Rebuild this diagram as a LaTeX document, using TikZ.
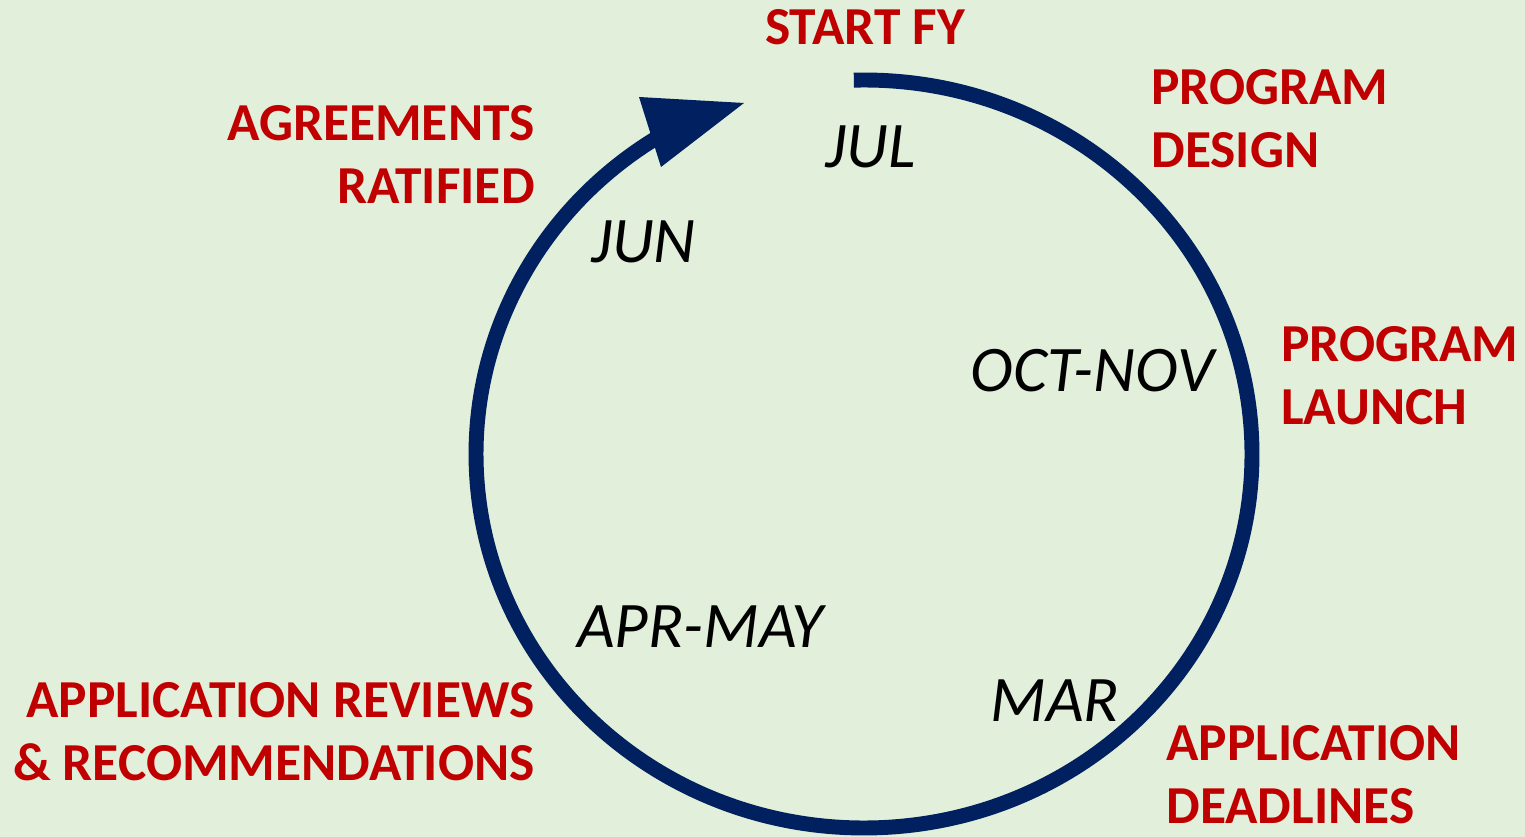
\documentclass[tikz,border=0pt]{standalone}
\usepackage{fontspec}
\setmainfont{Carlito}
\usepackage{tikz}
\definecolor{nv}{HTML}{002060}
\definecolor{rd}{HTML}{C00000}
\definecolor{bg}{HTML}{E2EFDA}
\tikzset{
stage/.style={text=rd,inner sep=0,font=\fontsize{30.4}{36.4}\selectfont\bfseries},
month/.style={text=black,inner sep=0,font=\fontsize{37}{44}\selectfont\itshape},
}
\begin{document}
\begin{tikzpicture}
\fill[bg] (0,0) rectangle (30.5,16.74);
\useasboundingbox (0,0) rectangle (30.5,16.74);
% the year
\draw[nv,line width=8.5pt] (17.077,15.137) arc [x radius=7.76,y radius=7.48,start angle=91.5,end angle=-238];
\filldraw[nv,draw=none] (12.78,14.80) -- (14.88,14.68) -- (13.22,13.40) -- cycle;
% stages (base = last line)
\node[stage,anchor=base] (startfy) at (17.30,15.84) {START FY};
\node[stage,anchor=base west,align=left] (design) at (23.02,13.38) {PROGRAM\\DESIGN};
\node[stage,anchor=base east,align=right] (ratified) at (10.70,12.66) {AGREEMENTS\\RATIFIED};
\node[stage,anchor=base west,align=left] (launch) at (25.62,8.24) {PROGRAM\\LAUNCH};
\node[stage,anchor=base east,align=right] (reviews) at (10.70,1.12) {APPLICATION REVIEWS\\\& RECOMMENDATIONS};
\node[stage,anchor=base west,align=left] (deadlines) at (23.32,0.26) {APPLICATION\\DEADLINES};
% months
\node[month,anchor=base] (jul) at (17.41,13.38) {JUL};
\node[month,anchor=base] (jun) at (12.87,11.48) {JUN};
\node[month,anchor=base] (octnov) at (21.85,8.90) {OCT-NOV};
\node[month,anchor=base] (aprmay) at (14.0,3.78) {APR-MAY};
\node[month,anchor=base] (mar) at (21.1,2.30) {MAR};
\end{tikzpicture}
\end{document}
